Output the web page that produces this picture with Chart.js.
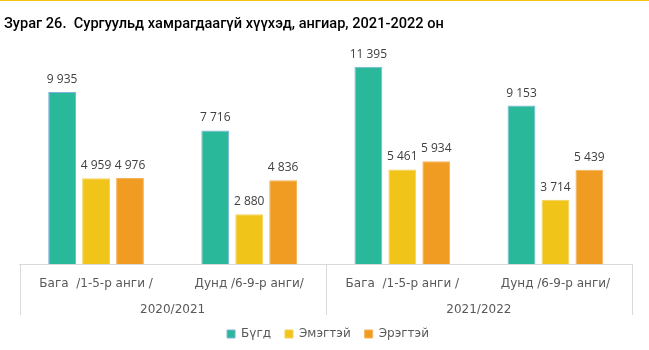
<!DOCTYPE html>
<html>
<head>
<meta charset="utf-8">
<script src="https://cdn.jsdelivr.net/npm/chart.js@4/dist/chart.umd.min.js"></script>
<style>
  html, body { margin: 0; padding: 0; background: #fff; }
  #topline { position: absolute; left: 0; top: 0; width: 649px; height: 1px; background: #F2C311; }
  #wrap { position: absolute; left: 0; top: 0; width: 649px; height: 350px; }
</style>
</head>
<body>
<div id="wrap"><canvas id="c" width="649" height="350"></canvas></div>
<div id="topline"></div>
<script>
const titleText = 'Зураг 26.  Сургуульд хамрагдаагүй хүүхэд, ангиар, 2021-2022 он';
const categories = ['Бага  /1-5-р анги /', 'Дунд /6-9-р анги/', 'Бага  /1-5-р анги /', 'Дунд /6-9-р анги/'];
const years = ['2020/2021', '2021/2022'];
const seriesNames = ['Бүгд', 'Эмэгтэй', 'Эрэгтэй'];
const total = [9935, 7716, 11395, 9153];
const female = [4959, 2880, 5461, 3714];
const male = [4976, 4836, 5934, 5439];

const fillColors = ['#2AB89A', '#F0C419', '#F09B22'];
const borderColors = ['#7FB2DE', '#F5D15A', '#F5B45A'];

function fmt(v) { return String(v).replace(/\B(?=(\d{3})+(?!\d))/g, ' '); }

const valueLabels = {
  id: 'valueLabels',
  afterDatasetsDraw(chart) {
    const ctx = chart.ctx;
    ctx.save();
    ctx.font = '12px "Open Sans"';
    ctx.fillStyle = '#404040';
    ctx.textAlign = 'center';
    ctx.textBaseline = 'alphabetic';
    chart.data.datasets.forEach((ds, i) => {
      const meta = chart.getDatasetMeta(i);
      meta.data.forEach((bar, j) => {
        ctx.fillText(fmt(ds.data[j]), bar.x, bar.y - 9);
      });
    });
    ctx.restore();
  }
};

const separators = {
  id: 'separators',
  afterDraw(chart) {
    const x = chart.scales.x;
    const ca = chart.chartArea;
    const mid = (x.getPixelForTick(1) + x.getPixelForTick(2)) / 2;
    const xs = [ca.left, mid, ca.right];
    const bottom = chart.scales.x2.top + 24;
    const ctx = chart.ctx;
    ctx.save();
    ctx.strokeStyle = '#D9D9D9';
    ctx.lineWidth = 1;
    xs.forEach(px => {
      const p = Math.round(px) + 0.5;
      ctx.beginPath();
      ctx.moveTo(p, ca.bottom);
      ctx.lineTo(p, bottom);
      ctx.stroke();
    });
    ctx.restore();
  }
};

const legendShift = {
  id: 'legendShift',
  afterLayout(chart) {
    const L = chart.legend;
    if (L) { L.left += 10; L.right += 10; }
  }
};

new Chart(document.getElementById('c'), {
  type: 'bar',
  data: {
    labels: categories,
    datasets: [
      { label: seriesNames[0], data: total, backgroundColor: fillColors[0], borderColor: borderColors[0], borderWidth: 1, xAxisID: 'x' },
      { label: seriesNames[1], data: female, backgroundColor: fillColors[1], borderColor: borderColors[1], borderWidth: 1, xAxisID: 'x' },
      { label: seriesNames[2], data: male, backgroundColor: fillColors[2], borderColor: borderColors[2], borderWidth: 1, xAxisID: 'x' }
    ]
  },
  options: {
    responsive: false,
    animation: false,
    devicePixelRatio: 1,
    layout: { padding: { left: 4, right: 17, top: 0, bottom: 0 } },
    datasets: { bar: { categoryPercentage: 0.665, barPercentage: 0.82 } },
    scales: {
      x: {
        type: 'category',
        position: 'bottom',
        grid: { display: false, drawTicks: false, tickLength: 0 },
        border: { display: true, color: '#D9D9D9' },
        ticks: { font: { family: 'DejaVu Sans', size: 12 }, color: '#595959', padding: 13, maxRotation: 0, autoSkip: false },
        afterFit(scale) { scale.height = 27; }
      },
      x2: {
        type: 'category',
        position: 'bottom',
        labels: years,
        offset: true,
        grid: { display: false, drawTicks: false, tickLength: 0 },
        border: { display: false },
        ticks: { font: { family: 'DejaVu Sans', size: 12 }, color: '#595959', padding: 12, maxRotation: 0 },
        afterFit(scale) { scale.height = 23; }
      },
      y: {
        min: 0, max: 12000,
        grid: { display: false },
        border: { display: false },
        ticks: { display: false },
        afterFit(scale) { scale.width = 15.5; }
      }
    },
    plugins: {
      title: {
        display: true,
        text: titleText,
        align: 'start',
        color: '#000',
        font: { family: 'Roboto', size: 14.6, weight: '500' },
        padding: { top: 15.5, bottom: 23.3 }
      },
      legend: {
        position: 'bottom',
        labels: { boxWidth: 8, boxHeight: 8, font: { family: 'DejaVu Sans', size: 12 }, color: '#595959', padding: 14 }
      },
      tooltip: { enabled: false }
    }
  },
  plugins: [valueLabels, separators, legendShift]
});
</script>
</body>
</html>
